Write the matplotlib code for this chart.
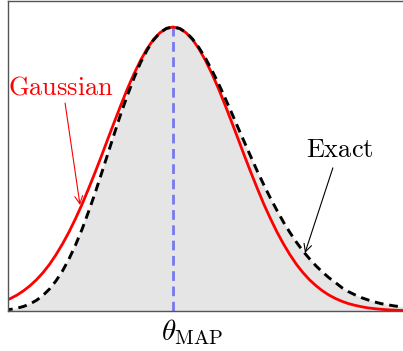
import matplotlib
matplotlib.use('Agg')
import matplotlib.pyplot as plt
from matplotlib.transforms import ScaledTranslation

plt.rcParams['mathtext.fontset'] = 'cm'

# theta grid in units of the Gaussian width, centred on the MAP estimate
theta = [-2.6, -2.5, -2.4, -2.3, -2.2, -2.1, -2.0, -1.9, -1.8, -1.7, -1.6,
         -1.5, -1.4, -1.3, -1.2, -1.1, -1.0, -0.9, -0.8, -0.7, -0.6, -0.5,
         -0.4, -0.3, -0.2, -0.1, 0.0, 0.1, 0.2, 0.3, 0.4, 0.5, 0.6, 0.7,
         0.8, 0.9, 1.0, 1.1, 1.2, 1.3, 1.4, 1.5, 1.6, 1.7, 1.8, 1.9, 2.0,
         2.1, 2.2, 2.3, 2.4, 2.5, 2.6, 2.7, 2.8, 2.9, 3.0, 3.1, 3.2, 3.3,
         3.4, 3.5, 3.6]

exact = [0.0032, 0.0057, 0.0098, 0.0159, 0.025, 0.0376, 0.0549, 0.0773,
         0.106, 0.141, 0.183, 0.232, 0.287, 0.349, 0.414, 0.484, 0.555,
         0.626, 0.696, 0.760, 0.820, 0.874, 0.918, 0.954, 0.980, 0.995, 1.0,
         0.995, 0.981, 0.958, 0.927, 0.890, 0.847, 0.801, 0.751, 0.699,
         0.646, 0.594, 0.542, 0.491, 0.443, 0.397, 0.354, 0.313, 0.276,
         0.242, 0.211, 0.184, 0.159, 0.137, 0.117, 0.100, 0.082, 0.068,
         0.057, 0.047, 0.039, 0.032, 0.026, 0.022, 0.018, 0.015, 0.012]

gauss = [0.034, 0.044, 0.056, 0.071, 0.089, 0.110, 0.135, 0.164, 0.198,
         0.236, 0.278, 0.325, 0.375, 0.430, 0.487, 0.546, 0.607, 0.667,
         0.726, 0.783, 0.835, 0.882, 0.923, 0.956, 0.980, 0.995, 1.0, 0.995,
         0.980, 0.956, 0.923, 0.882, 0.835, 0.783, 0.726, 0.667, 0.607,
         0.546, 0.487, 0.430, 0.375, 0.325, 0.278, 0.236, 0.198, 0.164,
         0.135, 0.110, 0.089, 0.071, 0.056, 0.044, 0.034, 0.026, 0.020,
         0.015, 0.011, 0.0082, 0.0060, 0.0043, 0.0031, 0.0022, 0.0015]

theta_map = 0.0

fig = plt.figure(figsize=(4.03, 3.51), dpi=100)
ax = fig.add_axes([8 / 403, 40 / 351, 396 / 403, 310 / 351])

ax.fill_between(theta, exact, color='#e5e5e5', lw=0)
ax.plot([theta_map, theta_map], [0, 1.0], color='#7878f0', lw=2,
        dashes=(3.5, 2))
ax.plot(theta, gauss, color='red', lw=2)
ax.plot(theta, exact, color='black', lw=2.1, dashes=(3, 2))

ax.text(-2.54, 0.764, r'$\mathrm{Gaussian}$', color='red', fontsize=19,
        ha='left', va='baseline')
ax.annotate('', xy=(-1.43, 0.373), xytext=(-1.66, 0.732),
            arrowprops=dict(arrowstyle='->', color='red', lw=0.8,
                            shrinkA=0, shrinkB=0, mutation_scale=14))
ax.text(2.57, 0.542, r'$\mathrm{Exact}$', color='black', fontsize=19,
        ha='center', va='baseline')
ax.annotate('', xy=(2.03, 0.204), xytext=(2.46, 0.504),
            arrowprops=dict(arrowstyle='->', color='black', lw=0.8,
                            shrinkA=0, shrinkB=0, mutation_scale=14))

ax.set_xlim(-2.538, 3.554)
ax.set_ylim(0, 1.0915)
ax.set_yticks([])
ax.set_xticks([theta_map])
ax.set_xticklabels([r'$\theta_{\rm MAP}$'], fontsize=21)
ax.tick_params(axis='x', length=0, pad=4)
# the label sits with theta over the MAP line, subscript to the right
shift = ScaledTranslation(19 / 100, 0, fig.dpi_scale_trans)
for lbl in ax.get_xticklabels():
    lbl.set_transform(lbl.get_transform() + shift)
for s in ax.spines.values():
    s.set_color('#555555')
    s.set_linewidth(1)

fig.savefig('out.png', dpi=100)
